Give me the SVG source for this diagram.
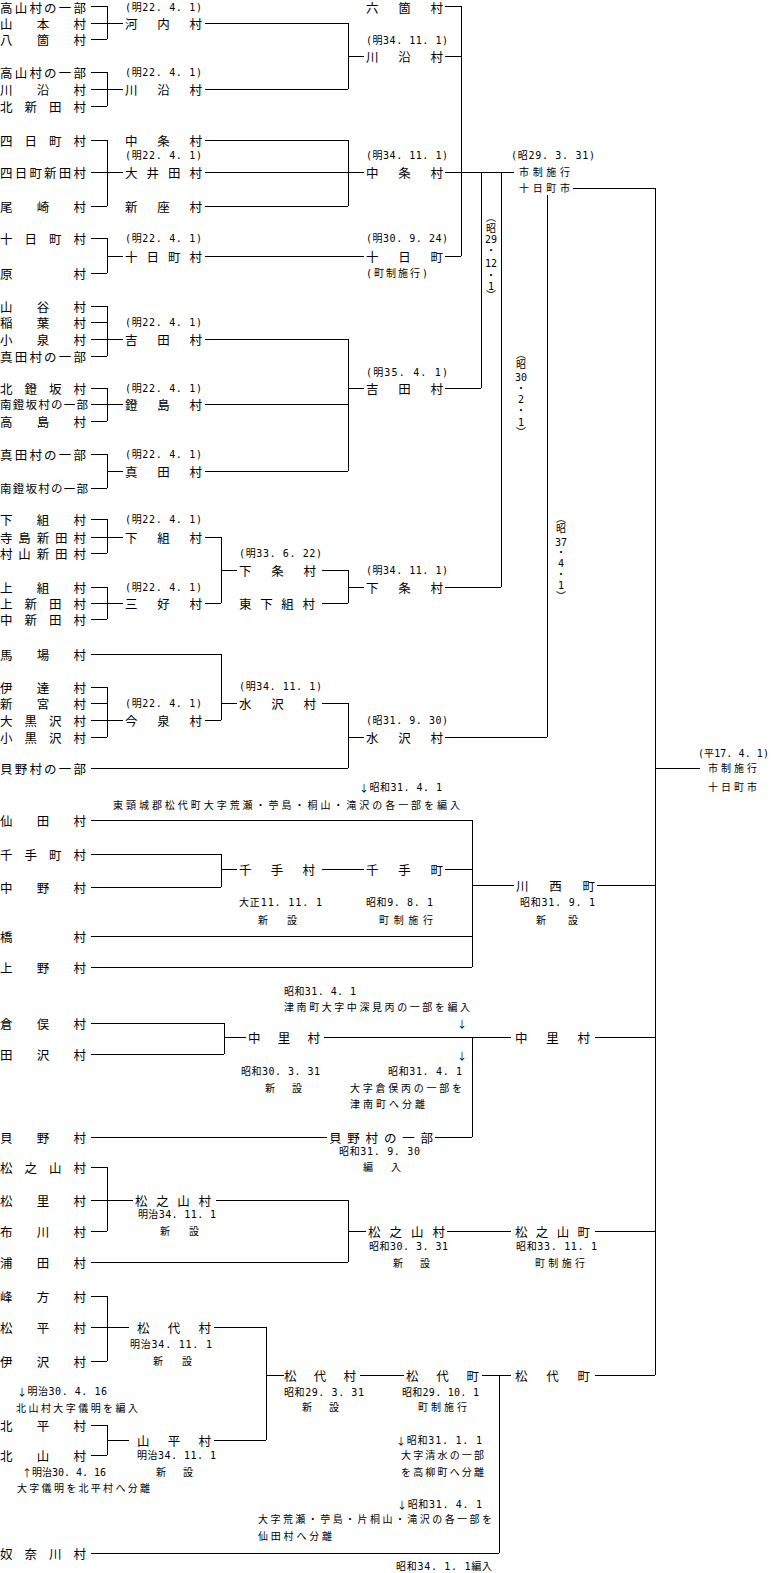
<svg xmlns="http://www.w3.org/2000/svg" width="771" height="1573" viewBox="0 0 771 1573">
<style>
.n{font-family:"Noto Sans CJK JP","Noto Sans CJK SC",sans-serif;font-size:12.5px;dominant-baseline:central;fill:#000}
.s{font-family:"DejaVu Sans Mono","Noto Sans CJK JP",monospace;font-size:10px;dominant-baseline:central;fill:#000}
.v{font-family:"DejaVu Sans Mono","Noto Sans CJK JP",monospace;font-size:10px;dominant-baseline:central;text-anchor:middle;fill:#000}
.a{font-family:"Noto Sans CJK JP",sans-serif}
.c{fill:none;stroke:#000;stroke-width:1;shape-rendering:crispEdges}
</style>
<rect width="771" height="1573" fill="#fff"/>
<g id="connectors" class="c">
<path d="M91 6H107V39M91 39H107M91 23H123"/>
<path d="M205 23H348V89M205 89H348M348 56H364"/>
<path d="M91 72H107V106M91 106H107M91 89H123"/>
<path d="M445 6H461V256M445 56H461M445 256H461"/>
<path d="M91 140H107V206M91 206H107M91 172H123"/>
<path d="M205 140H348V206M205 206H348M205 172H364"/>
<path d="M445 172H514"/>
<path d="M91 238H107V273M91 273H107M107 256H123M205 256H364"/>
<path d="M481 172V388M445 388H481"/>
<path d="M501 172V587M445 587H501"/>
<path d="M573 188H655V1375"/>
<path d="M547 195V737M445 737H547"/>
<path d="M91 306H107V356M91 322H107M91 356H107M91 339H123M205 339H348V471M348 388H364"/>
<path d="M91 388H107V421M91 421H107M91 404H123M205 404H348"/>
<path d="M91 454H107V488M91 488H107M107 471H123M205 471H348"/>
<path d="M91 519H107V553M91 553H107M91 537H123M205 537H221V603M205 603H221M221 570H237"/>
<path d="M91 587H107V619M91 619H107M91 603H123"/>
<path d="M322 570H348V603M322 603H348M348 587H364"/>
<path d="M91 654H221V720M205 720H221M221 703H237"/>
<path d="M91 687H107V737M91 703H107M91 737H107M91 720H123"/>
<path d="M322 703H348V768M91 768H348M348 737H364"/>
<path d="M655 768H700"/>
<path d="M91 820H472V967M91 936H472M91 967H472M472 885H514M597 885H655"/>
<path d="M91 854H221V887M91 887H221M221 869H237M322 869H364M445 869H472"/>
<path d="M91 1023H224V1054M91 1054H224M224 1037H246M324 1037H511M472 1037V1137M435 1137H472M91 1137H327M595 1037H655"/>
<path d="M91 1167H107V1231M91 1231H107M91 1200H133M216 1200H348V1262M91 1262H348M348 1231H366M447 1231H511M595 1231H655"/>
<path d="M91 1296H107V1361M91 1361H107M91 1327H129M214 1327H266V1440M214 1440H266M266 1375H284M360 1375H404M482 1375H511M499 1375V1553M91 1553H499M595 1375H655"/>
<path d="M91 1425H107V1455M91 1455H107M107 1440H129"/>
</g>
<g id="takayama-a"><text class="n" x="0" y="7" textLength="86">高山村の一部</text></g>
<g id="yamamoto"><text class="n" x="0" y="23" textLength="86">山 本 村</text></g>
<g id="yakkome"><text class="n" x="0" y="39" textLength="86">八 箇 村</text></g>
<g id="kawachi"><text class="s" x="125" y="7" textLength="77">(明22. 4. 1)</text><text class="n" x="125" y="23" textLength="77">河 内 村</text></g>
<g id="takayama-b"><text class="n" x="0" y="72" textLength="86">高山村の一部</text></g>
<g id="kawazoi-old"><text class="n" x="0" y="89" textLength="86">川 沿 村</text></g>
<g id="kitashinden"><text class="n" x="0" y="106" textLength="86">北 新 田 村</text></g>
<g id="kawazoi-m22"><text class="s" x="125" y="72" textLength="77">(明22. 4. 1)</text><text class="n" x="125" y="89" textLength="77">川 沿 村</text></g>
<g id="rokka"><text class="n" x="366" y="7" textLength="77">六 箇 村</text></g>
<g id="kawazoi-m34"><text class="s" x="366" y="40" textLength="82">(明34. 11. 1)</text><text class="n" x="366" y="56" textLength="77">川 沿 村</text></g>
<g id="yokkamachi"><text class="n" x="0" y="140" textLength="86">四 日 町 村</text></g>
<g id="yokkamachi-shinden"><text class="n" x="0" y="172" textLength="86">四日町新田村</text></g>
<g id="ozaki"><text class="n" x="0" y="206" textLength="86">尾 崎 村</text></g>
<g id="nakajo-a"><text class="n" x="125" y="140" textLength="77">中 条 村</text></g>
<g id="oida"><text class="s" x="125" y="155" textLength="77">(明22. 4. 1)</text><text class="n" x="125" y="172" textLength="77">大 井 田 村</text></g>
<g id="shinza"><text class="n" x="125" y="206" textLength="77">新 座 村</text></g>
<g id="nakajo-m34"><text class="s" x="366" y="155" textLength="82">(明34. 11. 1)</text><text class="n" x="366" y="172" textLength="77">中 条 村</text></g>
<g id="tokamachi-mura"><text class="n" x="0" y="238" textLength="86">十 日 町 村</text></g>
<g id="hara"><text class="n" x="0" y="273" textLength="86">原 村</text></g>
<g id="tokamachi-m22"><text class="s" x="125" y="238" textLength="77">(明22. 4. 1)</text><text class="n" x="125" y="256" textLength="77">十 日 町 村</text></g>
<g id="tokamachi-cho"><text class="s" x="366" y="238" textLength="82">(明30. 9. 24)</text><text class="n" x="366" y="256" textLength="77">十 日 町</text><text class="s" x="366" y="273" textLength="62">(町制施行)</text></g>
<g id="tokamachi-s29"><text class="s" x="511" y="155" textLength="84">(昭29. 3. 31)</text><text class="s" x="519" y="172" textLength="51">市制施行</text><text class="s" x="519" y="188" textLength="51">十日町市</text></g>
<g id="yamaya"><text class="n" x="0" y="306" textLength="86">山 谷 村</text></g>
<g id="inaba"><text class="n" x="0" y="322" textLength="86">稲 葉 村</text></g>
<g id="koizumi"><text class="n" x="0" y="339" textLength="86">小 泉 村</text></g>
<g id="sanada-a"><text class="n" x="0" y="356" textLength="86">真田村の一部</text></g>
<g id="yoshida-m22"><text class="s" x="125" y="322" textLength="77">(明22. 4. 1)</text><text class="n" x="125" y="339" textLength="77">吉 田 村</text></g>
<g id="kitaabumizaka"><text class="n" x="0" y="388" textLength="86">北 鐙 坂 村</text></g>
<g id="minamiabumizaka-a"><text class="n" x="0" y="404" textLength="88" style="font-size:11.5px">南鐙坂村の一部</text></g>
<g id="takashima"><text class="n" x="0" y="421" textLength="86">高 島 村</text></g>
<g id="abumijima"><text class="s" x="125" y="388" textLength="77">(明22. 4. 1)</text><text class="n" x="125" y="404" textLength="77">鐙 島 村</text></g>
<g id="sanada-b"><text class="n" x="0" y="454" textLength="86">真田村の一部</text></g>
<g id="minamiabumizaka-b"><text class="n" x="0" y="488" textLength="88" style="font-size:11.5px">南鐙坂村の一部</text></g>
<g id="sanada-m22"><text class="s" x="125" y="454" textLength="77">(明22. 4. 1)</text><text class="n" x="125" y="471" textLength="77">真 田 村</text></g>
<g id="yoshida-m35"><text class="s" x="366" y="372" textLength="82">(明35. 4. 1)</text><text class="n" x="366" y="388" textLength="77">吉 田 村</text></g>
<g id="shimogumi"><text class="n" x="0" y="519" textLength="86">下 組 村</text></g>
<g id="terajima"><text class="n" x="0" y="537" textLength="86">寺島新田村</text></g>
<g id="murayama"><text class="n" x="0" y="553" textLength="86">村山新田村</text></g>
<g id="shimogumi-m22"><text class="s" x="125" y="519" textLength="77">(明22. 4. 1)</text><text class="n" x="125" y="537" textLength="77">下 組 村</text></g>
<g id="kamigumi"><text class="n" x="0" y="587" textLength="86">上 組 村</text></g>
<g id="kamishinden"><text class="n" x="0" y="603" textLength="86">上 新 田 村</text></g>
<g id="nakashinden"><text class="n" x="0" y="619" textLength="86">中 新 田 村</text></g>
<g id="miyoshi"><text class="s" x="125" y="587" textLength="77">(明22. 4. 1)</text><text class="n" x="125" y="603" textLength="77">三 好 村</text></g>
<g id="shimojo-m33"><text class="s" x="239" y="553" textLength="83">(明33. 6. 22)</text><text class="n" x="239" y="570" textLength="77">下 条 村</text></g>
<g id="higashishimogumi"><text class="n" x="239" y="603" textLength="76">東 下 組 村</text></g>
<g id="shimojo-m34"><text class="s" x="366" y="570" textLength="82">(明34. 11. 1)</text><text class="n" x="366" y="587" textLength="77">下 条 村</text></g>
<g id="baba"><text class="n" x="0" y="654" textLength="86">馬 場 村</text></g>
<g id="date"><text class="n" x="0" y="687" textLength="86">伊 達 村</text></g>
<g id="shingu"><text class="n" x="0" y="703" textLength="86">新 宮 村</text></g>
<g id="ookurosawa"><text class="n" x="0" y="720" textLength="86">大 黒 沢 村</text></g>
<g id="kokurosawa"><text class="n" x="0" y="737" textLength="86">小 黒 沢 村</text></g>
<g id="imaizumi"><text class="s" x="125" y="703" textLength="77">(明22. 4. 1)</text><text class="n" x="125" y="720" textLength="77">今 泉 村</text></g>
<g id="mizusawa-m34"><text class="s" x="239" y="686" textLength="83">(明34. 11. 1)</text><text class="n" x="239" y="703" textLength="77">水 沢 村</text></g>
<g id="kaino-part-a"><text class="n" x="0" y="768" textLength="86">貝野村の一部</text></g>
<g id="mizusawa-s31"><text class="s" x="366" y="720" textLength="82">(昭31. 9. 30)</text><text class="n" x="366" y="737" textLength="77">水 沢 村</text></g>
<g id="tokamachi-h17"><text class="s" x="698" y="753" textLength="71">(平17. 4. 1)</text><text class="s" x="708" y="768" textLength="49">市制施行</text><text class="s" x="708" y="787" textLength="49">十日町市</text></g>
<g id="senda"><text class="n" x="0" y="820" textLength="86">仙 田 村</text></g>
<g id="sendemachi-mura"><text class="n" x="0" y="854" textLength="86">千 手 町 村</text></g>
<g id="nakano"><text class="n" x="0" y="887" textLength="86">中 野 村</text></g>
<g id="tachibana"><text class="n" x="0" y="936" textLength="86">橋 村</text></g>
<g id="ueno"><text class="n" x="0" y="967" textLength="86">上 野 村</text></g>
<g id="sende-mura"><text class="n" x="239" y="869" textLength="76">千 手 村</text><text class="s" x="239" y="902" textLength="83">大正11. 11. 1</text><text class="s" x="258" y="920" textLength="39">新 設</text></g>
<g id="sende-machi"><text class="n" x="366" y="869" textLength="77">千 手 町</text><text class="s" x="366" y="902" textLength="67">昭和9. 8. 1</text><text class="s" x="379" y="920" textLength="54">町制施行</text></g>
<g id="kawanishi"><text class="n" x="516" y="885" textLength="79">川 西 町</text><text class="s" x="520" y="902" textLength="75">昭和31. 9. 1</text><text class="s" x="536" y="920" textLength="42">新 設</text></g>
<g id="kuramata"><text class="n" x="0" y="1023" textLength="86">倉 俣 村</text></g>
<g id="tazawa"><text class="n" x="0" y="1054" textLength="86">田 沢 村</text></g>
<g id="nakasato-s30"><text class="n" x="248" y="1037" textLength="72">中 里 村</text><text class="s" x="241" y="1071" textLength="79">昭和30. 3. 31</text><text class="s" x="265" y="1088" textLength="37">新 設</text></g>
<g id="nakasato"><text class="n" x="515" y="1037" textLength="75">中 里 村</text></g>
<g id="kaino"><text class="n" x="0" y="1137" textLength="86">貝 野 村</text></g>
<g id="kaino-part-b"><text class="n" x="329" y="1137" textLength="104">貝野村の一部</text><text class="s" x="339" y="1151" textLength="81">昭和31. 9. 30</text><text class="s" x="363" y="1167" textLength="38">編 入</text></g>
<g id="matsunoyama-a"><text class="n" x="0" y="1167" textLength="86">松 之 山 村</text></g>
<g id="matsusato"><text class="n" x="0" y="1200" textLength="86">松 里 村</text></g>
<g id="nunokawa"><text class="n" x="0" y="1231" textLength="86">布 川 村</text></g>
<g id="urata"><text class="n" x="0" y="1262" textLength="86">浦 田 村</text></g>
<g id="matsunoyama-m34"><text class="n" x="135" y="1200" textLength="76">松 之 山 村</text><text class="s" x="138" y="1214" textLength="78">明治34. 11. 1</text><text class="s" x="160" y="1231" textLength="39">新 設</text></g>
<g id="matsunoyama-s30"><text class="n" x="368" y="1231" textLength="77">松 之 山 村</text><text class="s" x="369" y="1246" textLength="79">昭和30. 3. 31</text><text class="s" x="393" y="1263" textLength="37">新 設</text></g>
<g id="matsunoyama-cho"><text class="n" x="515" y="1231" textLength="75">松 之 山 町</text><text class="s" x="516" y="1246" textLength="81">昭和33. 11. 1</text><text class="s" x="535" y="1263" textLength="50">町制施行</text></g>
<g id="minekata"><text class="n" x="0" y="1296" textLength="86">峰 方 村</text></g>
<g id="matsudaira"><text class="n" x="0" y="1327" textLength="86">松 平 村</text></g>
<g id="izawa"><text class="n" x="0" y="1361" textLength="86">伊 沢 村</text></g>
<g id="kitadaira"><text class="n" x="0" y="1425" textLength="86">北 平 村</text></g>
<g id="kitayama"><text class="n" x="0" y="1455" textLength="86">北 山 村</text></g>
<g id="matsushiro-m34"><text class="n" x="137" y="1327" textLength="74">松 代 村</text><text class="s" x="130" y="1344" textLength="82">明治34. 11. 1</text><text class="s" x="153" y="1361" textLength="39">新 設</text></g>
<g id="yamadaira"><text class="n" x="137" y="1440" textLength="74">山 平 村</text><text class="s" x="137" y="1455" textLength="79">明治34. 11. 1</text><text class="s" x="156" y="1472" textLength="37">新 設</text></g>
<g id="matsushiro-s29"><text class="n" x="284" y="1375" textLength="72">松 代 村</text><text class="s" x="284" y="1392" textLength="80">昭和29. 3. 31</text><text class="s" x="302" y="1407" textLength="37">新 設</text></g>
<g id="matsushiro-cho"><text class="n" x="406" y="1375" textLength="73">松 代 町</text><text class="s" x="402" y="1392" textLength="77">昭和29. 10. 1</text><text class="s" x="418" y="1407" textLength="49">町制施行</text></g>
<g id="matsushiro-cho-b"><text class="n" x="515" y="1375" textLength="75">松 代 町</text></g>
<g id="nunagawa"><text class="n" x="0" y="1553" textLength="86">奴 奈 川 村</text></g>
<g id="notes">
<text class="s" x="359" y="787" textLength="83"><tspan class="a">↓</tspan>昭和31. 4. 1</text>
<text class="s" x="113" y="805" textLength="347">東頸城郡松代町大字荒瀬・苧島・桐山・滝沢の各一部を編入</text>
<text class="s" x="284" y="991" textLength="72">昭和31. 4. 1</text>
<text class="s" x="284" y="1007" textLength="186">津南町大字中深見丙の一部を編入</text>
<text class="v a" x="462" y="1023">↓</text>
<text class="v a" x="462" y="1055">↓</text>
<text class="s" x="388" y="1071" textLength="74">昭和31. 4. 1</text>
<text class="s" x="350" y="1088" textLength="112">大字倉俣丙の一部を</text>
<text class="s" x="350" y="1104" textLength="75">津南町へ分離</text>
<text class="s" x="17" y="1391" textLength="90"><tspan class="a">↓</tspan>明治30. 4. 16</text>
<text class="s" x="16" y="1408" textLength="122">北山村大字儀明を編入</text>
<text class="s" x="22" y="1472" textLength="84"><tspan class="a">↑</tspan>明治30. 4. 16</text>
<text class="s" x="17" y="1488" textLength="133">大字儀明を北平村へ分離</text>
<text class="s" x="396" y="1440" textLength="86"><tspan class="a">↓</tspan>昭和31. 1. 1</text>
<text class="s" x="401" y="1455" textLength="83">大字清水の一部</text>
<text class="s" x="401" y="1472" textLength="83">を高柳町へ分離</text>
<text class="s" x="397" y="1504" textLength="85"><tspan class="a">↓</tspan>昭和31. 4. 1</text>
<text class="s" x="258" y="1519" textLength="234">大字荒瀬・苧島・片桐山・滝沢の各一部を</text>
<text class="s" x="258" y="1536" textLength="74">仙田村へ分離</text>
<text class="s" x="396" y="1566" textLength="96">昭和34. 1. 1編入</text>
</g>
<g id="edge-labels">
<text class="v" x="491" y="217">︵</text><text class="v" x="491" y="228">昭</text><text class="v" x="491" y="239">29</text><text class="v" x="491" y="250">・</text><text class="v" x="491" y="263">12</text><text class="v" x="491" y="275">・</text><text class="v" x="491" y="286">1</text><text class="v" x="491" y="295">︶</text>
<text class="v" x="521" y="354">︵</text><text class="v" x="521" y="364">昭</text><text class="v" x="521" y="377">30</text><text class="v" x="521" y="388">・</text><text class="v" x="521" y="399">2</text><text class="v" x="521" y="410">・</text><text class="v" x="521" y="422">1</text><text class="v" x="521" y="432">︶</text>
<text class="v" x="561" y="518">︵</text><text class="v" x="561" y="528">昭</text><text class="v" x="561" y="542">37</text><text class="v" x="561" y="552">・</text><text class="v" x="561" y="563">4</text><text class="v" x="561" y="574">・</text><text class="v" x="561" y="585">1</text><text class="v" x="561" y="596">︶</text>
</g>
</svg>
